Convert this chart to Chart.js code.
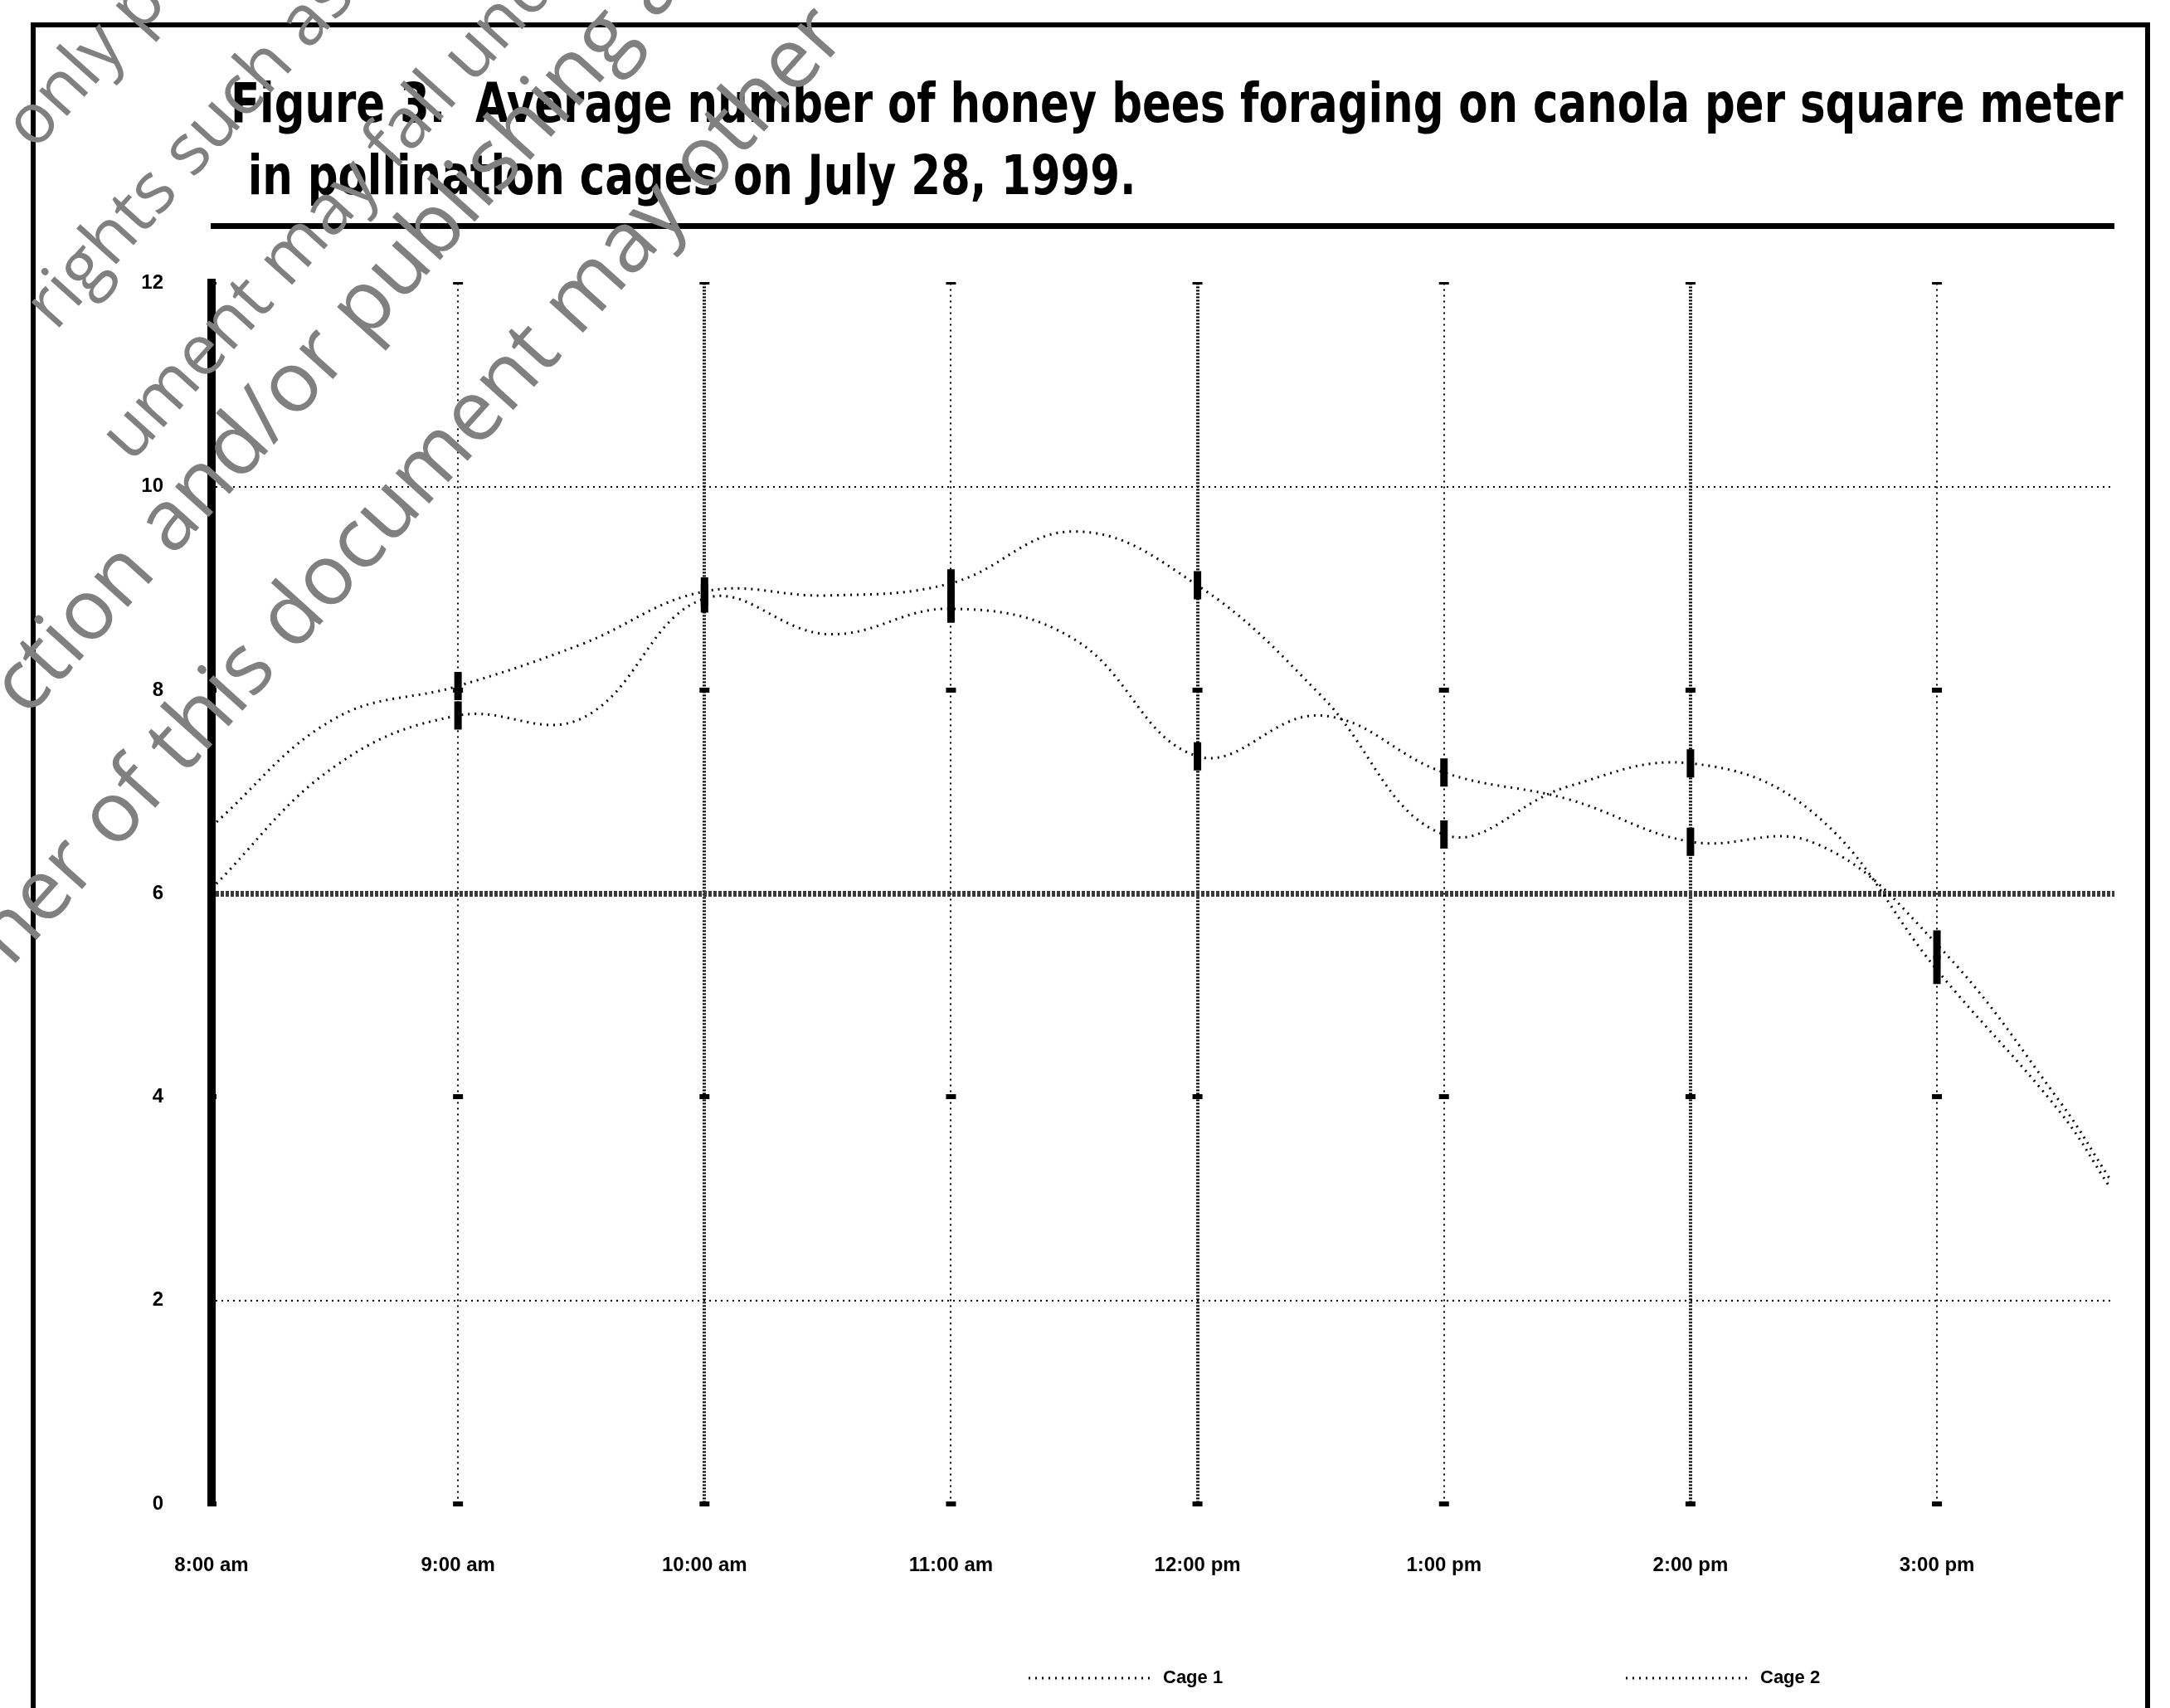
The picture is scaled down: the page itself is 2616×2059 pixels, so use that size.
<!DOCTYPE html>
<html>
<head>
<meta charset="utf-8">
<title>Figure 3</title>
<script src="https://cdn.jsdelivr.net/npm/chart.js@4.4.0/dist/chart.umd.min.js"></script>
<style>
    html, body { margin: 0; padding: 0; background: #fff; }
    body { width: 2616px; height: 2059px; position: relative; overflow: hidden;
           font-family: "Liberation Sans Narrow", "DejaVu Sans Condensed", sans-serif; }
    .frame { position: absolute; left: 37px; top: 27px; width: 2543px; height: 2100px; border: 6px solid #000; }
    .title { position: absolute; left: 278px; top: 81px; font-size: 66px; line-height: 87px;
             font-weight: bold; white-space: nowrap; color: #000;
             transform-origin: 0 0; transform: scaleX(0.865); }
    .title .l2 { padding-left: 24px; }
    .rule { position: absolute; left: 254px; top: 269px; width: 2295px; height: 7px; background: #000; }
    .chart-box { position: absolute; left: 60px; top: 269px; width: 2520px; height: 1790px; }
    .wm { position: absolute; color: #808080; font-family: "Open Sans", sans-serif; font-size: 85px;
          line-height: 1; white-space: nowrap; transform-origin: 0 0; transform: rotate(-48deg); z-index: 5; }
    .wm.big { font-size: 102px; }
</style>
</head>
<body>
<div class="frame"></div>
<div class="title">
    <div>Figure 3.&nbsp; Average number of honey bees foraging on canola per square meter</div>
    <div class="l2">in pollination cages on July 28, 1999.</div>
</div>
<div class="rule"></div>
<div class="chart-box"><canvas id="beesChart"></canvas></div>

<!-- marca d'agua do documento original -->
<div class="wm" style="left:-14px; top:133px;">only permitted</div>
<div class="wm" style="left:11px; top:350px;">rights such as copyright</div>
<div class="wm" style="left:102px; top:509px;">ument may fall under</div>
<div class="wm big" style="left:-34px; top:806px;">ction and/or publishing and</div>
<div class="wm big" style="left:-54px; top:1107px;">ner of this document may other</div>

<script>
// Dados do grafico
const timeLabels = ['8:00 am', '9:00 am', '10:00 am', '11:00 am', '12:00 pm', '1:00 pm', '2:00 pm', '3:00 pm'];
const labelTicks = [0, 1, 2, 3, 4, 5, 6, 7];
const timePoints = [0, 0.5, 1, 1.5, 2, 2.5, 3, 3.5, 4, 4.5, 5, 5.5, 6, 6.5, 7, 7.5, 7.7];
const cageOne = [6.66, 7.72, 8.04, 8.45, 8.97, 8.93, 9.05, 9.56, 9.03, 7.95, 6.58, 7.05, 7.28, 6.79, 5.25, 3.85, 3.12];
const cageTwo = [6.05, 7.25, 7.75, 7.72, 8.9, 8.55, 8.8, 8.5, 7.35, 7.75, 7.19, 6.93, 6.51, 6.5, 5.5, 3.95, 3.2];
const seriesNames = ['Cage 1', 'Cage 2'];
const yMin = 0;
const yMax = 12;
const yStep = 2;
const xMax = 7.72;

const axisFont = { family: '"Liberation Sans Narrow", sans-serif', size: 24, weight: 'bold' };

// legenda desenhada embaixo, com linha pontilhada
const legendX = [1180, 1900];
const bottomLegend = {
    id: 'bottomLegend',
    afterDraw(chart) {
        const ctx = chart.ctx;
        const y = chart.height - 36;
        chart.data.datasets.forEach((ds, i) => {
            const x0 = legendX[i];
            ctx.save();
            ctx.strokeStyle = ds.borderColor;
            ctx.lineWidth = ds.borderWidth;
            ctx.setLineDash(ds.borderDash);
            ctx.beginPath();
            ctx.moveTo(x0, y);
            ctx.lineTo(x0 + 150, y);
            ctx.stroke();
            ctx.setLineDash([]);
            ctx.fillStyle = '#000';
            ctx.font = 'bold 22px "Liberation Sans Narrow", sans-serif';
            ctx.textBaseline = 'middle';
            ctx.fillText(ds.label, x0 + 162, y);
            ctx.restore();
        });
    }
};

const markerRadius = (c) => Number.isInteger(c.raw.x) ? 17 : 0;

// marquinhas nos cruzamentos das linhas de grade (8, 4, 0, 12)
const crossMark = 12;
const catStep = (c) => {
    const xs = c.chart.scales.x;
    return xs.getPixelForValue(1) - xs.getPixelForValue(0);
};
const yGridDash = (c) => {
    const v = c.tick ? c.tick.value : null;
    if (v === 6) return [4, 2];
    if (v === 2 || v === 10) return [2, 5];
    const step = catStep(c);
    return [crossMark, Math.max(step - crossMark, 1)];
};

const beesCtx = document.getElementById('beesChart').getContext('2d');
const beesChart = new Chart(beesCtx, {
    type: 'line',
    data: {
        datasets: [{
            label: seriesNames[0],
            data: timePoints.map((t, i) => ({ x: t, y: cageOne[i] })),
            borderColor: '#000',
            borderWidth: 3,
            borderDash: [2, 6],
            tension: 0.4,
            pointStyle: 'line',
            rotation: 90,
            pointRadius: markerRadius,
            pointBorderWidth: 9,
            pointBorderColor: '#000',
            fill: false
        }, {
            label: seriesNames[1],
            data: timePoints.map((t, i) => ({ x: t, y: cageTwo[i] })),
            borderColor: '#000',
            borderWidth: 3,
            borderDash: [2, 6],
            tension: 0.4,
            pointStyle: 'line',
            rotation: 90,
            pointRadius: markerRadius,
            pointBorderWidth: 9,
            pointBorderColor: '#000',
            fill: false
        }]
    },
    options: {
        responsive: true,
        maintainAspectRatio: false,
        animation: false,
        layout: { padding: { left: 0, right: 31, top: 0, bottom: 0 } },
        plugins: {
            legend: { display: false },
            tooltip: { enabled: false }
        },
        scales: {
            x: {
                type: 'linear',
                min: 0,
                max: xMax,
                afterBuildTicks: (scale) => { scale.ticks = labelTicks.map(v => ({ value: v })); },
                afterFit: (scale) => { scale.height = 246; },
                ticks: {
                    callback: (v) => timeLabels[v],
                    color: '#000',
                    font: axisFont,
                    padding: 60,
                    maxRotation: 0,
                    autoSkip: false
                },
                grid: {
                    color: (c) => c.tick && c.tick.value === 0 ? 'rgba(0,0,0,0)' : '#000',
                    lineWidth: (c) => c.tick && c.tick.value % 2 === 0 ? 4 : 2,
                    drawTicks: false
                },
                border: {
                    display: false,
                    dash: (c) => c.tick && c.tick.value % 2 === 0 ? [2, 2] : [2, 5]
                }
            },
            y: {
                min: yMin,
                max: yMax,
                afterFit: (scale) => { scale.width = 195; },
                ticks: {
                    stepSize: yStep,
                    color: '#000',
                    font: axisFont,
                    padding: 58
                },
                grid: {
                    color: (c) => c.tick && c.tick.value === 6 ? '#3a3a3a' : '#000',
                    lineWidth: (c) => {
                        const v = c.tick ? c.tick.value : null;
                        if (v === 6) return 7;
                        if (v === 2 || v === 10) return 2;
                        return v === 12 ? 3 : 6;
                    },
                    drawTicks: false
                },
                border: {
                    color: '#000',
                    width: 10,
                    dash: yGridDash,
                    dashOffset: (c) => {
                        const v = c.tick ? c.tick.value : null;
                        return (v === 6 || v === 2 || v === 10) ? 0 : crossMark / 2 + 5;
                    }
                }
            }
        }
    },
    plugins: [bottomLegend]
});
</script>
</body>
</html>
